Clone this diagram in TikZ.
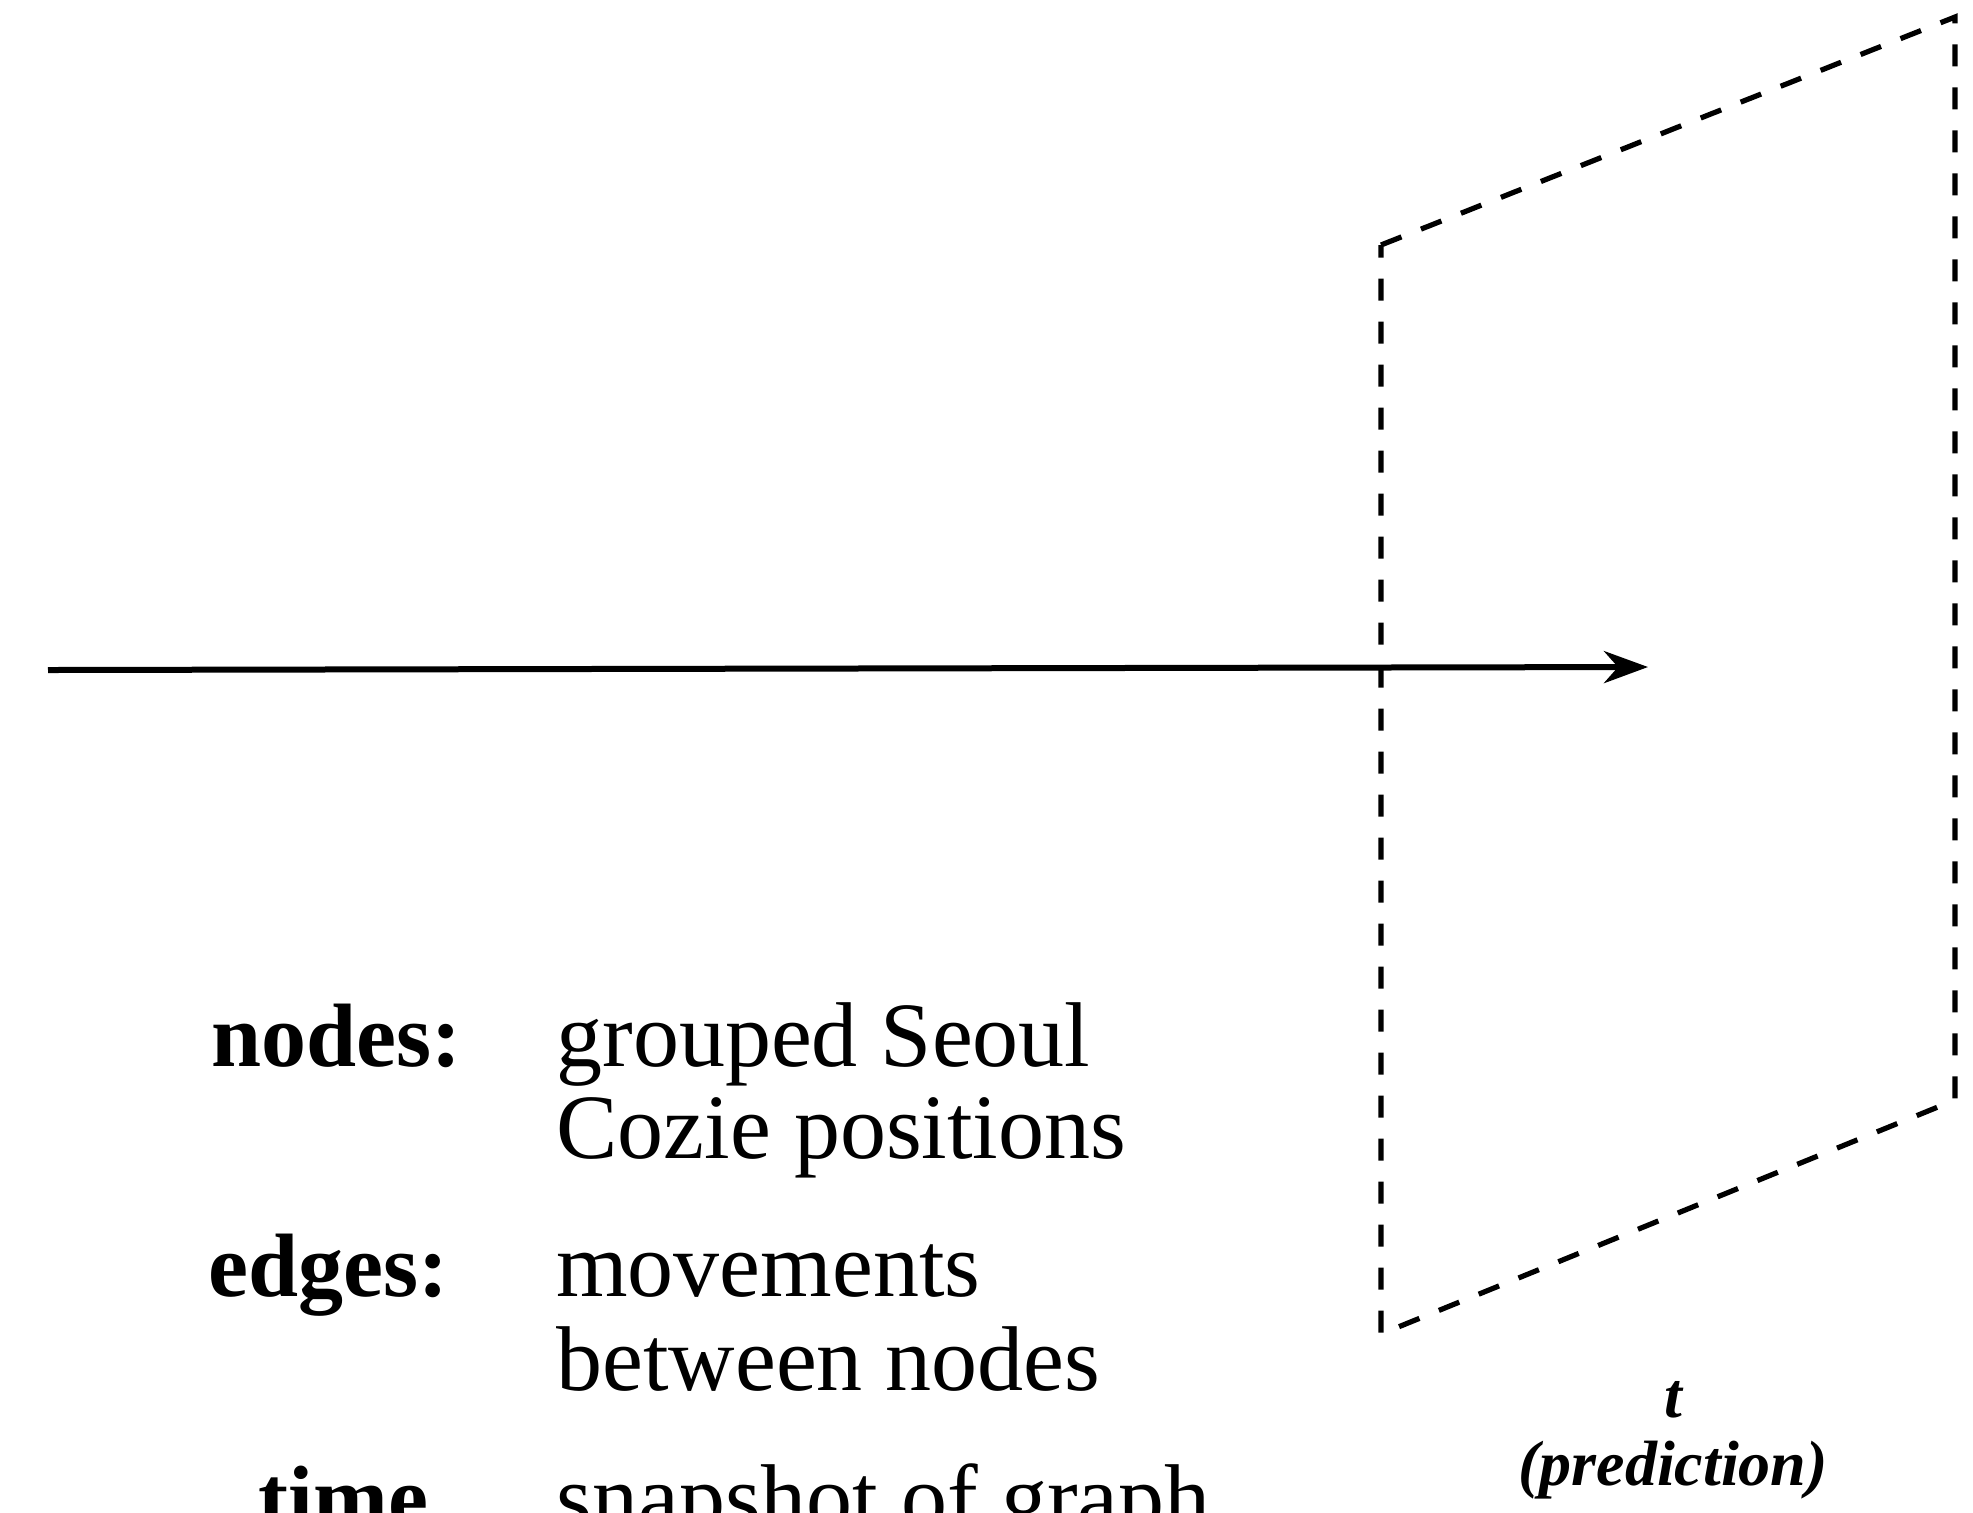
\documentclass[tikz,border=0pt]{standalone}
\usepackage{fontspec}
\setmainfont{Liberation Serif}
\usetikzlibrary{arrows.meta}
\begin{document}
\begin{tikzpicture}[x=0.5pt,y=-0.5pt,
  lbl/.style={anchor=base west,inner sep=0pt,font=\fontsize{45}{45}\selectfont\bfseries},
  desc/.style={anchor=base west,inner sep=0pt,font=\fontsize{46}{46}\selectfont},
  tlabel/.style={anchor=base,inner sep=0pt,font=\fontsize{32}{34}\selectfont\bfseries\itshape},
  plane/.style={line width=2.6pt,dash pattern=on 11pt off 10.5pt},
  timearrow/.style={line width=3pt,-{Stealth[length=22pt,width=16pt,inset=7pt]}}]
\useasboundingbox (0,0) rectangle (1973,1512);
\clip (0,0) rectangle (1973,1512);
% time axis
\coordinate (axstart) at (48,670);
\coordinate (axend) at (1648,667);
\draw[timearrow] (axstart) -- (axend);
% prediction plane
\coordinate (ptl) at (1381,245);
\coordinate (ptr) at (1955,17);
\coordinate (pbr) at (1955,1100);
\coordinate (pbl) at (1381,1334);
\draw[plane] (ptl) -- (ptr) -- (pbr) -- (pbl) -- cycle;
% labels
\node[tlabel] (tt) at (1673,1417) {t};
\node[tlabel] (tpred) at (1673,1485) {(prediction)};
% legend
\node[lbl] (lnodes) at (211,1066) {nodes:};
\node[desc] (dnodes1) at (556,1066) {grouped Seoul};
\node[desc] (dnodes2) at (556,1158) {Cozie positions};
\node[lbl] (ledges) at (208,1296) {edges:};
\node[desc] (dedges1) at (556,1296) {movements};
\node[desc] (dedges2) at (556,1390) {between nodes};
\node[lbl] (ltime) at (258,1528) {time};
\node[desc] (dtime) at (556,1528) {snapshot of graph};
\end{tikzpicture}
\end{document}
